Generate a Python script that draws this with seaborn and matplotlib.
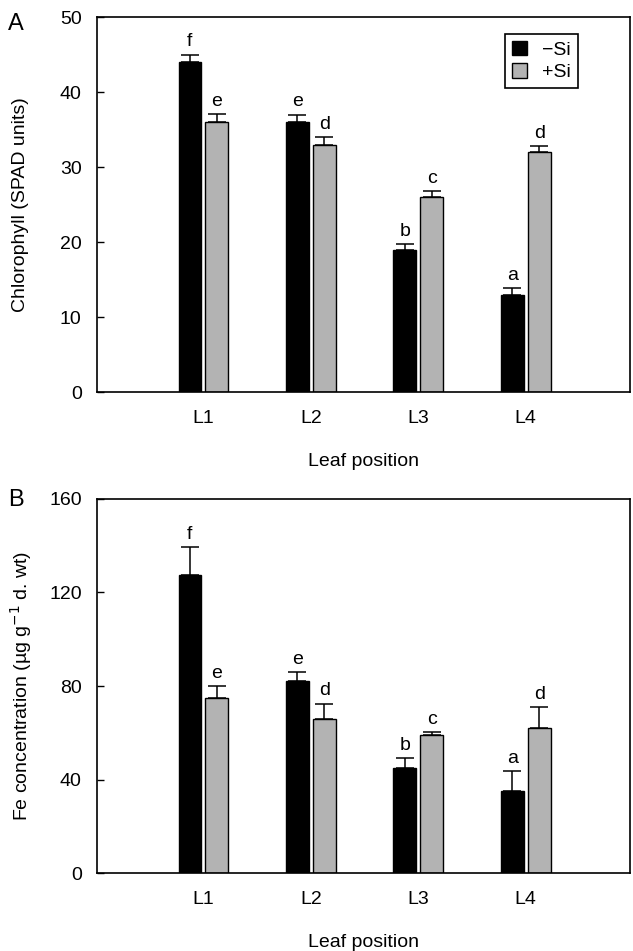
import numpy as np
import pandas as pd
import matplotlib
matplotlib.use('Agg')
import matplotlib.pyplot as plt
import seaborn as sns

# ---- data ----
leaves = ['L1', 'L2', 'L3', 'L4']
treatments = ['\u2212Si', '+Si']

chl_minus = [44, 36, 19, 13]
chl_plus = [36, 33, 26, 32]
chl_minus_se = [1.0, 1.0, 0.7, 0.9]
chl_plus_se = [1.1, 1.0, 0.8, 0.8]
chl_minus_let = ['f', 'e', 'b', 'a']
chl_plus_let = ['e', 'd', 'c', 'd']

fe_minus = [127.5, 82, 45, 35]
fe_plus = [75, 66, 59, 62]
fe_minus_se = [12, 4, 4, 8.5]
fe_plus_se = [5, 6.5, 1.3, 9]
fe_minus_let = ['f', 'e', 'b', 'a']
fe_plus_let = ['e', 'd', 'c', 'd']

sns.set_theme(style='white')
plt.rcParams['font.family'] = ['Liberation Sans', 'DejaVu Sans']
plt.rcParams['axes.edgecolor'] = 'black'
plt.rcParams['axes.linewidth'] = 1.2
for k in ['text.color', 'axes.labelcolor', 'xtick.color', 'ytick.color']:
    plt.rcParams[k] = 'black'

FS = 14
colors = {treatments[0]: 'black', treatments[1]: '#b3b3b3'}


def panel(ax, minus, plus, minus_se, plus_se, minus_let, plus_let, ylim, yticks, ylabel,
          label_x, show_legend):
    df = pd.DataFrame({
        'leaf': leaves * 2,
        'treatment': [treatments[0]] * 4 + [treatments[1]] * 4,
        'value': list(minus) + list(plus),
    })
    sns.barplot(data=df, x='leaf', y='value', hue='treatment', hue_order=treatments,
                palette=colors, edgecolor='black', linewidth=1, width=0.5, gap=0.15,
                errorbar=None, saturation=1, ax=ax, legend=show_legend)
    for cont, se, let in zip(ax.containers, [minus_se, plus_se], [minus_let, plus_let]):
        for bar, e, l in zip(cont, se, let):
            xc = bar.get_x() + bar.get_width() / 2
            h = bar.get_height()
            ax.errorbar(xc, h, yerr=[[0], [e]], fmt='none', ecolor='black',
                        elinewidth=1.1, capsize=6.5, capthick=1.1)
            ax.annotate(l, (xc, h + e), xytext=(0, 3), textcoords='offset points',
                        ha='center', va='bottom', fontsize=FS)
    ax.set_xlim(-0.99, 3.97)
    ax.set_ylim(*ylim)
    ax.set_yticks(yticks)
    ax.tick_params(axis='y', direction='in', length=5, width=1, pad=11, labelsize=FS, left=True)
    ax.tick_params(axis='x', length=0, pad=13, labelsize=FS)
    ax.set_ylabel(ylabel, fontsize=FS)
    ax.yaxis.set_label_coords(label_x, 0.5)
    ax.set_xlabel('Leaf position', fontsize=FS, labelpad=19)
    for s in ax.spines.values():
        s.set_visible(True)
        s.set_color('black')
    if show_legend:
        h, l = ax.get_legend_handles_labels()
        leg = ax.legend(h, l, loc='upper right', bbox_to_anchor=(0.902, 0.955), fontsize=FS,
                        handlelength=0.75, handleheight=0.75, handletextpad=0.8,
                        labelspacing=0.25, borderpad=0.35, borderaxespad=0,
                        fancybox=False, framealpha=1, edgecolor='black')
        leg.get_frame().set_linewidth(1.2)


fig = plt.figure(figsize=(6.33, 9.51), dpi=100)
ax1 = fig.add_axes([0.1532, 0.5878, 0.8421, 0.3943])
ax2 = fig.add_axes([0.1532, 0.0820, 0.8421, 0.3933])

panel(ax1, chl_minus, chl_plus, chl_minus_se, chl_plus_se, chl_minus_let, chl_plus_let,
      (0, 50), [0, 10, 20, 30, 40, 50], 'Chlorophyll (SPAD units)', -0.128, True)
panel(ax2, fe_minus, fe_plus, fe_minus_se, fe_plus_se, fe_minus_let, fe_plus_let,
      (0, 160), [0, 40, 80, 120, 160], 'Fe concentration (\u00b5g g$^{-1}$ d. wt)', -0.118, False)

fig.text(0.013, 0.975, 'A', fontsize=17, va='center', ha='left')
fig.text(0.013, 0.474, 'B', fontsize=17, va='center', ha='left')

fig.savefig('out.png', dpi=100)
